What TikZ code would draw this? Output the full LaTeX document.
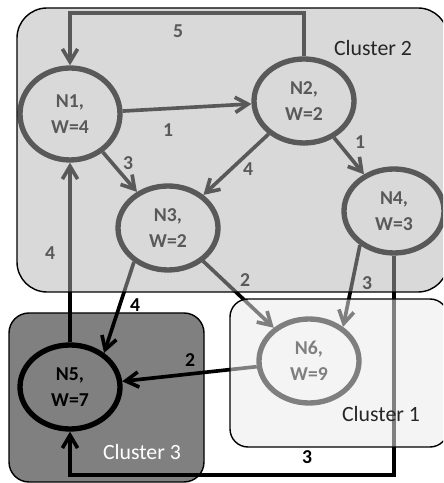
\documentclass[tikz,border=0pt]{standalone}
\usepackage{fontspec}
\setmainfont{Carlito}
\usetikzlibrary{arrows.meta,shapes.geometric}
\definecolor{clustertwofill}{HTML}{B3B3B3}
\definecolor{clusteronefill}{HTML}{EBEBEB}
\definecolor{clusterthreefill}{HTML}{808080}
\definecolor{clustertext}{HTML}{262626}

\begin{document}
\begin{tikzpicture}[
  >={Straight Barb[length=3.2mm,width=3.8mm]},
  vertex/.style={ellipse, draw=black, line width=3.8pt, minimum width=2.5cm, minimum height=2.1cm, inner sep=0pt, align=center, font=\bfseries\fontsize{14}{18.2}\selectfont},
  edge/.style={->, draw=black, line width=2.6pt},
  weight/.style={font=\bfseries\fontsize{14}{16}\selectfont, inner sep=1pt},
  cluster/.style={draw=black, line width=1pt},
  clusterlabel/.style={font=\fontsize{15.5}{18}\selectfont, text=clustertext, inner sep=0pt}
]
\clip (0,0) rectangle (11.075,12.075);

% cluster 3 sits behind its node
\draw[cluster, fill=clusterthreefill, rounded corners=0.5cm] (0.225,0.025) rectangle (5.1,4.25);

\node[vertex, minimum height=2.3cm] (N1) at (1.75,9.225) {N1,\\W=4};
\node[vertex] (N2) at (7.6,9.55) {N2,\\W=2};
\node[vertex] (N3) at (4.2,6.375) {N3,\\W=2};
\node[vertex] (N4) at (9.85,6.8) {N4,\\W=3};
\node[vertex] (N5) at (1.75,2.4) {N5,\\W=7};
\node[vertex] (N6) at (7.725,3.05) {N6,\\W=9};

\coordinate (looptop) at (7.6,11.75);
\coordinate (return) at (9.85,0.2);

\draw[edge] (N2.north) -- (looptop) -| (N1.north);
\draw[edge] (N1) -- (N2);
\draw[edge] (N1) -- (N3);
\draw[edge] (N2) -- (N3);
\draw[edge] (N2) -- (N4);
\draw[edge] (N3) -- (N6);
\draw[edge] (N4.225) -- (N6.45);
\draw[edge] (N3.225) -- (N5.45);
\draw[edge] (N6) -- (N5);
\draw[edge] (N5) -- (N1);
\draw[edge] (N4.south) -- (return) -| (N5.south);

\node[weight] (w21) at (4.45,11.3) {5};
\node[weight] (w12) at (4.2,8.825) {1};
\node[weight] (w13) at (3.2,8.0) {3};
\node[weight] (w24) at (9.0,8.525) {1};
\node[weight] (w23) at (6.2,7.85) {4};
\node[weight] (w51) at (1.25,5.75) {4};
\node[weight] (w36) at (6.125,5.075) {2};
\node[weight] (w46) at (9.175,5.0) {3};
\node[weight] (w35) at (3.375,4.45) {4};
\node[weight] (w65) at (4.75,3.075) {2};
\node[weight] (w45) at (7.675,0.65) {3};

% clusters 2 and 1 lie over the graph
\draw[cluster, fill=clustertwofill, fill opacity=0.5, rounded corners=0.75cm] (0.425,4.775) rectangle (11.2,11.875);
\draw[cluster, fill=clusteronefill, fill opacity=0.54, rounded corners=0.45cm] (5.75,0.9) rectangle (11.2,4.6);

\node[clusterlabel] (c2) at (9.325,10.875) {Cluster 2};
\node[clusterlabel] (c1) at (9.525,1.725) {Cluster 1};
\node[clusterlabel, text=white] (c3) at (3.55,0.775) {Cluster 3};

\end{tikzpicture}
\end{document}
